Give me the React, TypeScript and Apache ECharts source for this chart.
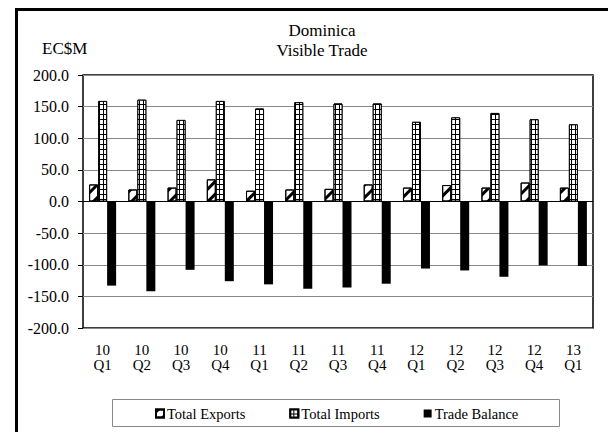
import React, { useEffect, useRef } from "react";
import * as echarts from "echarts";

const categories = ["10\nQ1", "10\nQ2", "10\nQ3", "10\nQ4", "11\nQ1", "11\nQ2", "11\nQ3", "11\nQ4", "12\nQ1", "12\nQ2", "12\nQ3", "12\nQ4", "13\nQ1"];
const totalExports = [27, 19, 22, 35, 17, 19, 20, 27, 22, 26, 22, 30, 22];
const totalImports = [159, 161, 129, 159, 147, 157, 155, 155, 126, 133, 140, 130, 122];
const tradeBalance = [-133, -142, -108, -126, -131, -138, -136, -130, -106, -109, -119, -101, -102];
const seriesNames = ["Total Exports", "Total Imports", "Trade Balance"];
const titleLines = ["Dominica", "Visible Trade"];
const unitLabel = "EC$M";

const FONT = "Liberation Serif";

export default function App() {
  const ref = useRef<HTMLDivElement>(null);
  useEffect(() => {
    if (!ref.current) return;
    const chart = echarts.init(ref.current, null, { renderer: "svg" });
    chart.setOption({
      animation: false,
      backgroundColor: "#fff",
      textStyle: { fontFamily: FONT },
      graphic: [
        {
          type: "rect",
          shape: { x: 16.5, y: 9.5, width: 700, height: 500 },
          style: { fill: "none", stroke: "#000", lineWidth: 3 },
          silent: true,
        },
        {
          type: "text",
          x: 322,
          y: 30,
          style: { text: titleLines[0], fontFamily: FONT, fontSize: 17, fill: "#000", textAlign: "center", textVerticalAlign: "middle" },
        },
        {
          type: "text",
          x: 322,
          y: 50,
          style: { text: titleLines[1], fontFamily: FONT, fontSize: 17, fill: "#000", textAlign: "center", textVerticalAlign: "middle" },
        },
        {
          type: "text",
          x: 42,
          y: 48,
          style: { text: unitLabel, fontFamily: FONT, fontSize: 17, fill: "#000", textAlign: "left", textVerticalAlign: "middle" },
        },
        {
          type: "rect",
          shape: { x: 112.5, y: 399.5, width: 447, height: 27 },
          style: { fill: "none", stroke: "#888", lineWidth: 1 },
          silent: true,
        },
      ],
      legend: {
        data: seriesNames,
        left: 155,
        top: 406,
        padding: 0,
        icon: "rect",
        itemWidth: 8,
        itemHeight: 8,
        itemGap: 44,
        textStyle: { fontFamily: FONT, fontSize: 14.5, color: "#000", padding: [0, 0, 0, -2] },
      },
      grid: {
        left: 83,
        right: 15,
        top: 75,
        bottom: 104,
        show: true,
        borderColor: "#000",
        borderWidth: 1.5,
        containLabel: false,
      },
      xAxis: {
        type: "category",
        data: categories,
        axisLine: { show: false },
        axisTick: { show: false },
        axisLabel: { interval: 0, margin: 14, lineHeight: 15, fontFamily: FONT, fontSize: 15, color: "#000" },
      },
      yAxis: {
        type: "value",
        min: -200,
        max: 200,
        interval: 50,
        axisLine: { show: false },
        axisTick: { show: true, length: 5, lineStyle: { color: "#000" } },
        splitLine: { show: true, lineStyle: { color: "#888", width: 1 } },
        axisLabel: {
          margin: 14,
          fontFamily: FONT,
          fontSize: 16,
          color: "#000",
          formatter: (v: number) => v.toFixed(1),
        },
      },
      series: [
        {
          name: seriesNames[0],
          type: "bar",
          data: totalExports,
          barWidth: 9,
          barGap: "0%",
          itemStyle: {
            color: "#fff",
            borderColor: "#000",
            borderWidth: 1,
            decal: {
              symbol: "rect",
              color: "#000",
              dashArrayX: [1, 0],
              dashArrayY: [3, 6],
              rotation: -Math.PI / 4,
            },
          },
        },
        {
          name: seriesNames[1],
          type: "bar",
          data: totalImports,
          barWidth: 9,
          barGap: "0%",
          itemStyle: {
            color: "#000",
            borderColor: "#000",
            borderWidth: 1,
            decal: {
              symbol: "rect",
              color: "#fff",
              symbolSize: 1,
              symbolKeepAspect: false,
              dashArrayX: [3, 1],
              dashArrayY: [4, 1],
            },
          },
        },
        {
          name: seriesNames[2],
          type: "bar",
          data: tradeBalance,
          barWidth: 9,
          barGap: "0%",
          itemStyle: { color: "#000" },
          markLine: {
            silent: true,
            symbol: ["none", "none"],
            label: { show: false },
            lineStyle: { color: "#000", width: 1, type: "solid" },
            data: [{ yAxis: 0 }],
          },
        },
      ],
    });
    return () => chart.dispose();
  }, []);
  return <div ref={ref} style={{ position: "fixed", left: 0, top: 0, width: 608, height: 432 }} />;
}
